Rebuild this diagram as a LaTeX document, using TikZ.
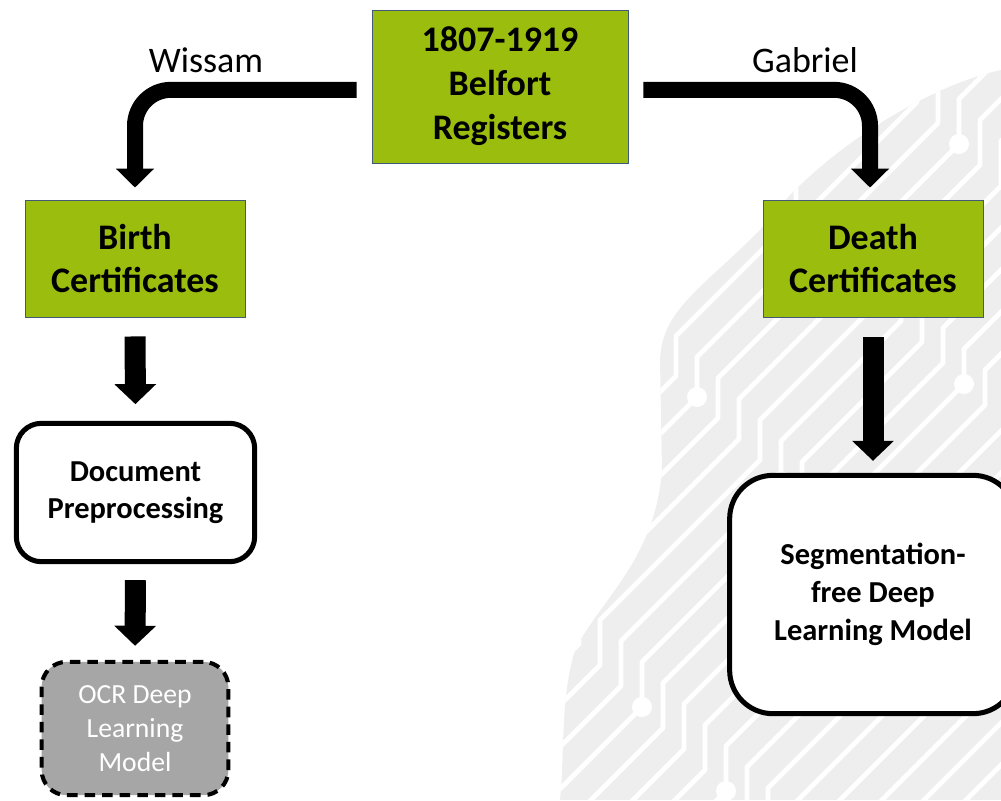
\documentclass[tikz,border=0pt]{standalone}
\usepackage{fontspec}
\setmainfont{Carlito}
\usepackage{tikz}
\usetikzlibrary{arrows.meta,positioning}

\definecolor{leaf}{RGB}{155,190,14}
\definecolor{edge}{RGB}{65,90,120}
\definecolor{ocrgray}{RGB}{166,166,166}
\definecolor{headgray}{RGB}{238,238,238}

\begin{document}
\begin{tikzpicture}[x=0.03cm, y=-0.03cm]
			\tikzstyle{Register}	= [draw=edge, line width=0.8pt, fill=leaf, align=center, inner sep=0pt, font=\bfseries\fontsize{30.7}{37.5}\selectfont, execute at begin node={\rule{0pt}{1em}}]
			\tikzstyle{Certif}	= [Register, minimum width=6.6cm, minimum height=3.51cm]
			\tikzstyle{Step}	= [draw, line width=4.3pt, rounded corners=0.75cm, fill=white, align=center, inner sep=0pt, execute at begin node={\rule{0pt}{1em}}]
			\tikzstyle{Planned}	= [Step, dashed, dash pattern=on 9pt off 6pt, fill=ocrgray, text=white, line width=3.5pt]
			\tikzstyle{Who}		= [font=\fontsize{30.7}{37.5}\selectfont]
			\tikzstyle{Fat}		= [line width=0.63cm, -{Triangle[width=1.22cm, length=0.6cm]}]
			\tikzstyle{Bend}	= [line width=0.48cm, rounded corners=1.08cm, -{Triangle[width=1.12cm, length=0.57cm]}]
			\tikzstyle{Trace}	= [white, line width=0.14cm, line join=round]
			\tikzstyle{Pad}		= [white]

			\useasboundingbox (0,0) rectangle (1001,800);

			% faint head with circuit behind the right branch
			\begin{scope}
				\path [clip] (1001,70) .. controls (930,85) and (820,150) .. (760,230) .. controls (700,290) and (662,310) .. (660,360) -- (662,470) .. controls (655,560) and (600,600) .. (575,650) .. controls (560,700) and (565,750) .. (560,800) -- (1001,800) -- cycle;
				\fill [headgray] (550,60) rectangle (1001,800);
				\foreach \o [count=\i] in {-420,-399,...,420} {
					\draw [Trace] (1100+\o,0+\o) -- (980+\o,120+\o) -- (980+\o,165+\o) -- (880+\o,265+\o) -- (880+\o,300+\o) -- (760+\o,420+\o) -- (760+\o,460+\o) -- (600+\o,620+\o) -- (600+\o,665+\o) -- (470+\o,795+\o);
					\pgfmathtruncatemacro\k{mod(\i,4)}
					\ifcase\k
						\fill [Pad] (980+\o,165+\o) circle (10);
					\or
						\fill [Pad] (880+\o,300+\o) circle (10);
					\or
						\fill [Pad] (760+\o,460+\o) circle (10);
					\or
						\fill [Pad] (600+\o,665+\o) circle (10);
					\fi
				}
			\end{scope}

			\node (regs) at (500,86.5) [Register, minimum width=7.68cm, minimum height=4.59cm] {1807-1919\\Belfort\\Registers};
			\node (birth) at (135,258.5) [Certif] {Birth\\Certificates};
			\node (death) at (873,258.5) [Certif] {Death\\Certificates};
			\node (prep) at (135.5,492.5) [Step, minimum width=7.15cm, minimum height=4.15cm, font=\bfseries\fontsize{26}{31.6}\selectfont] {Document\\Preprocessing};
			\node (ocr) at (135,728.5) [Planned, minimum width=5.6cm, minimum height=4.0cm, font=\fontsize{23.6}{29}\selectfont] {OCR Deep\\Learning\\Model};
			\node (seg) at (873,594.5) [Step, minimum width=8.6cm, minimum height=7.15cm, rounded corners=1.3cm, font=\bfseries\fontsize{26}{32.4}\selectfont] {Segmentation-\\free Deep\\Learning Model};

			\node (wissam) at (206,60) [Who] {Wissam};
			\node (gabriel) at (805,60) [Who] {Gabriel};

			\draw [Bend, shorten <=0.45cm, shorten >=0.36cm] ([yshift=-0.1cm]regs.west) -| (birth.north);
			\draw [Bend, shorten <=0.45cm, shorten >=0.36cm] ([yshift=-0.1cm]regs.east) -| ([xshift=-0.09cm]death.north);
			\draw [Fat, shorten <=0.57cm, shorten >=0.5cm] (birth.south) to (prep.north);
			\draw [Fat, shorten <=0.48cm, shorten >=0.42cm] (prep.south) to (ocr.north);
			\draw [Fat, shorten <=0.6cm, shorten >=0.36cm] (death.south) to (seg.north);
		\end{tikzpicture}
\end{document}
